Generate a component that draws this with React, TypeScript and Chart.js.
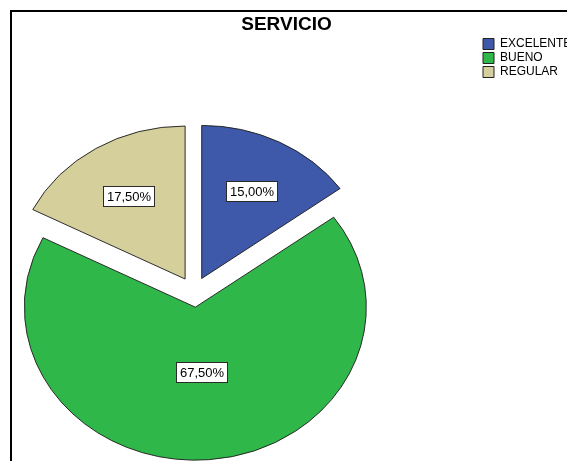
import React, { useEffect, useRef } from 'react';
import { Chart, registerables } from 'chart.js';

Chart.register(...registerables);

const TITLE = 'SERVICIO';
const CATEGORIES = ['EXCELENTE', 'BUENO', 'REGULAR'];
const PERCENTS = [15.0, 67.5, 17.5];
const COLORS = ['#3e58aa', '#2fb74a', '#d5cf9b'];

const SHIFT = 93;
const CANVAS_W = 664;
const CANVAS_H = 560;
const Y_SCALE = 153 / 171;
const EXPLODE = 17;
const FONT = '"Liberation Sans", Arial, sans-serif';

const fmt = (v: number) => v.toFixed(2).replace('.', ',') + '%';

const chromePlugin = {
  id: 'chrome',
  beforeDraw(chart: any) {
    const ctx = chart.ctx;
    ctx.save();
    ctx.fillStyle = '#ffffff';
    ctx.fillRect(0, 0, chart.width, chart.height);
    ctx.strokeStyle = '#000000';
    ctx.lineWidth = 2;
    ctx.strokeRect(SHIFT + 11, 11, 1000, 1000);
    ctx.fillStyle = '#000000';
    ctx.font = `bold 19px ${FONT}`;
    ctx.textAlign = 'center';
    ctx.textBaseline = 'alphabetic';
    ctx.fillText(TITLE, SHIFT + 286.5, 30);
    ctx.restore();
  },
};

// Draws the library's arc elements exploded and squashed into an ellipse, then the value boxes.
const explodedPiePlugin = {
  id: 'explodedPie',
  beforeDatasetsDraw(chart: any) {
    const meta = chart.getDatasetMeta(0);
    const data = chart.data.datasets[0].data as number[];
    const ctx = chart.ctx;
    const first = meta.data[0];
    if (!first) return false;
    const cx = first.x;
    const cy = first.y;
    ctx.save();
    ctx.translate(cx, cy);
    ctx.scale(1, Y_SCALE);
    ctx.translate(-cx, -cy);
    meta.data.forEach((el: any) => {
      const mid = (el.startAngle + el.endAngle) / 2;
      ctx.save();
      ctx.translate(Math.cos(mid) * EXPLODE, Math.sin(mid) * EXPLODE);
      el.draw(ctx);
      ctx.restore();
    });
    ctx.restore();

    ctx.save();
    ctx.font = `13px ${FONT}`;
    meta.data.forEach((el: any, i: number) => {
      const { x, y, startAngle, endAngle, outerRadius } = el;
      const mid = (startAngle + endAngle) / 2;
      const half = Math.min((endAngle - startAngle) / 2, Math.PI / 2);
      const dist = (2 * outerRadius * Math.sin(half)) / (3 * half);
      const r = EXPLODE + dist;
      const px = x + Math.cos(mid) * r;
      const py = y + Math.sin(mid) * r * Y_SCALE;
      const text = fmt(data[i]);
      const tw = ctx.measureText(text).width;
      const w = Math.round(tw + 7);
      const h = 20;
      const bx = Math.round(px - w / 2) + 0.5;
      const by = Math.round(py - h / 2) + 0.5;
      ctx.fillStyle = '#ffffff';
      ctx.fillRect(bx, by, w, h);
      ctx.strokeStyle = '#2a2a2a';
      ctx.lineWidth = 1;
      ctx.strokeRect(bx, by, w, h);
      ctx.fillStyle = '#000000';
      ctx.textAlign = 'center';
      ctx.textBaseline = 'middle';
      ctx.fillText(text, bx + w / 2, by + h / 2 + 0.5);
    });
    ctx.restore();
    return false;
  },
};

export default function App() {
  const ref = useRef<HTMLCanvasElement | null>(null);
  useEffect(() => {
    if (!ref.current) return;
    const chart = new Chart(ref.current, {
      type: 'pie',
      data: {
        labels: CATEGORIES,
        datasets: [
          {
            data: PERCENTS,
            backgroundColor: COLORS,
            borderColor: '#222222',
            borderWidth: 1,
            offset: 0,
            clip: false,
          } as any,
        ],
      },
      options: {
        responsive: false,
        animation: false,
        radius: 171,
        events: [],
        layout: { padding: { left: 0, right: 0, top: 36, bottom: 12 } },
        plugins: {
          legend: {
            position: 'right',
            align: 'start',
            maxWidth: 90,
            labels: {
              boxWidth: 11,
              boxHeight: 11,
              padding: 2,
              color: '#000000',
              font: { size: 12, family: FONT },
            },
          },
          tooltip: { enabled: false },
          title: { display: false },
        },
      } as any,
      plugins: [chromePlugin, explodedPiePlugin],
    });
    return () => chart.destroy();
  }, []);
  return (
    <div
      style={{
        position: 'fixed',
        left: 0,
        top: 0,
        width: 567,
        height: 461,
        overflow: 'hidden',
        background: '#ffffff',
      }}
    >
      <canvas
        ref={ref}
        width={CANVAS_W}
        height={CANVAS_H}
        style={{ position: 'absolute', left: -SHIFT, top: 0, display: 'block' }}
      />
    </div>
  );
}
